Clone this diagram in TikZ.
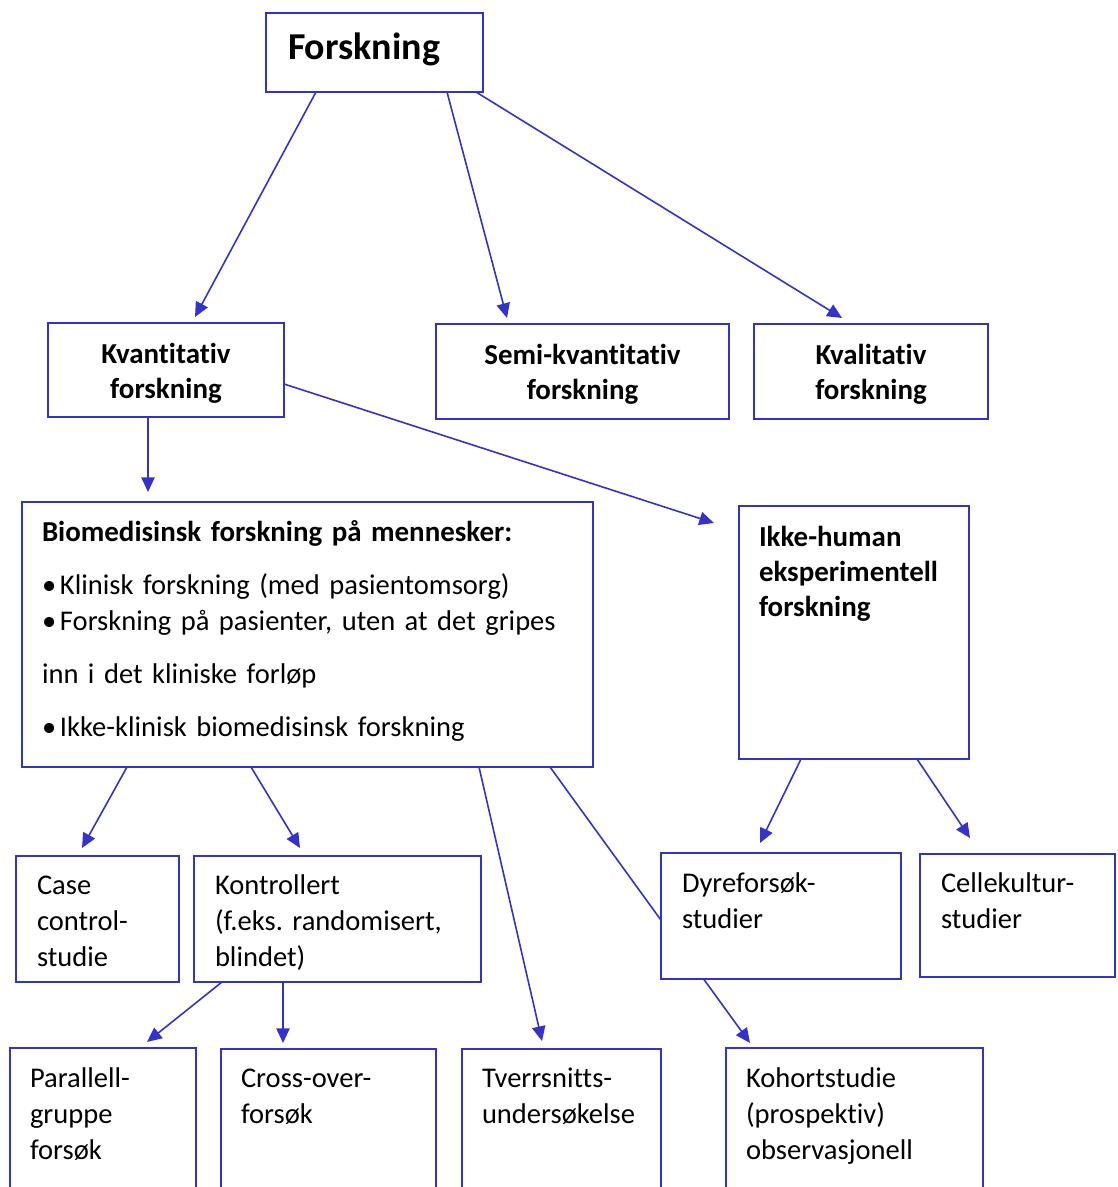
\documentclass[tikz,border=0pt]{standalone}
\usepackage{fontspec}
\setmainfont{Carlito}[Ligatures=CommonOff]
\usetikzlibrary{arrows.meta,calc}
\definecolor{boksblaa}{RGB}{51,51,204}
\newcommand{\kule}{\makebox[13.5pt][l]{•}}
\frenchspacing
\tikzset{
  boks/.style={draw=boksblaa, line width=1.5pt, fill=white, anchor=north west, outer sep=0pt,
    inner xsep=15pt, inner ysep=0pt, align=left, font=\fontsize{21.4}{27}\selectfont},
  fet/.style={boks, align=center, inner xsep=7.5pt, font=\bfseries\fontsize{21.7}{26.25}\selectfont},
  pil/.style={draw=boksblaa, line width=1.2pt, -{Triangle[length=11pt,width=10pt]}},
}
\begin{document}
\begin{tikzpicture}[x=0.75pt,y=-0.75pt]
  \useasboundingbox (0,0) rectangle (1117,1187);
  \clip (0,0) rectangle (1117,1187);

  % toppnivaa
  \node[boks, inner xsep=16.5pt, text width=129.75pt, text height=35.25pt, text depth=24pt,
    font=\bfseries\fontsize{28.5}{35}\selectfont] (forsk) at (266,13) {Forskning};
  \node[fet, text width=162pt, text height=30pt, text depth=40.5pt] (kvant) at (48,323) {Kvantitativ\\forskning};
  \node[fet, text width=204.75pt, text height=30pt, text depth=41.25pt] (semi) at (436,324) {Semi-kvantitativ\\forskning};
  \node[fet, text width=160.5pt, text height=30pt, text depth=41.25pt] (kval) at (754,324) {Kvalitativ\\forskning};

  % midtre nivaa
  \node[boks, text width=398.25pt, text height=29.25pt, text depth=169.5pt] (bio) at (22,502)
    {{\bfseries\fontsize{21.7}{27}\selectfont Biomedisinsk forskning på mennesker:}\\[12.75pt]
     \kule Klinisk forskning (med pasientomsorg)\\
     \kule Forskning på pasienter, uten at det gripes\\[12.75pt]
     inn i det kliniske forløp\\[12.75pt]
     \kule Ikke-klinisk biomedisinsk forskning};
  \node[boks, text width=142.5pt, text height=30pt, text depth=159.75pt,
    font=\bfseries\fontsize{21.7}{26.25}\selectfont] (ikke) at (739,506)
    {Ikke-human\\eksperimentell\\forskning};

  % studietyper
  \node[boks, inner xsep=15.75pt, text width=90.75pt, text height=28.5pt, text depth=66pt] (case) at (16,856) {Case\\control-\\studie};
  \node[boks, inner xsep=15.75pt, text width=183.75pt, text height=28.5pt, text depth=66pt] (kontr) at (194,856) {Kontrollert\\(f.eks. randomisert,\\blindet)};
  \node[boks, inner xsep=15.75pt, text width=114.75pt, text height=28.5pt, text depth=63.75pt] (celle) at (920,854) {Cellekultur-\\studier};
  \node[boks, text width=109.5pt, text height=29.25pt, text depth=98.25pt] (para) at (10,1048) {Parallell-\\gruppe\\forsøk};
  \node[boks, text width=131.25pt, text height=28.5pt, text depth=98.25pt] (cross) at (221,1049) {Cross-over-\\forsøk};
  \node[boks, text width=119.25pt, text height=28.5pt, text depth=98.25pt] (tverr) at (462,1049) {Tverrsnitts-\\undersøkelse};
  \node[boks, text width=162.75pt, text height=29.25pt, text depth=98.25pt] (kohort) at (726,1048) {Kohortstudie\\(prospektiv)\\observasjonell};

  % piler
  \draw[pil] ($(forsk.south west)+(50,0)$) -- ($(kvant.north west)+(147,-6)$);
  \draw[pil] ($(forsk.south west)+(181,0)$) -- ($(semi.north west)+(71,-6)$);
  \draw[pil] ($(forsk.south east)+(-7,0)$) -- ($(kval.north west)+(88,-6)$);
  \draw[pil] ($(kvant.north east)+(0,61)$) -- ($(ikke.north west)+(-25,17)$);
  \draw[pil] ($(kvant.south west)+(100,0)$) -- ($(bio.north west)+(126,-10)$);
  \draw[pil] ($(bio.south west)+(105,0)$) -- ($(case.north west)+(66,-8)$);
  \draw[pil] ($(bio.south west)+(229,0)$) -- ($(kontr.north west)+(106,-8)$);
  \draw[pil] ($(bio.south west)+(457,0)$) -- ($(tverr.north west)+(80,-8)$);
  \draw[pil] ($(bio.south west)+(528,0)$) -- ($(kohort.north west)+(24,-5)$);
  \draw[pil] ($(ikke.south west)+(178,0)$) -- ($(celle.north west)+(50,-16)$);
  \draw[pil] ($(kontr.south west)+(28,0)$) -- ($(para.north west)+(137,-6)$);
  \draw[pil] ($(kontr.south west)+(89,0)$) -- ($(cross.north west)+(62,-6)$);

  % dyreforsok ligger over linja til kohortstudie
  \node[boks, inner xsep=15.75pt, text width=148.5pt, text height=29.25pt, text depth=65.25pt] (dyre) at (661,853) {Dyreforsøk-\\studier};
  \draw[pil] ($(ikke.south west)+(62,0)$) -- ($(dyre.north west)+(99,-10)$);
\end{tikzpicture}
\end{document}
